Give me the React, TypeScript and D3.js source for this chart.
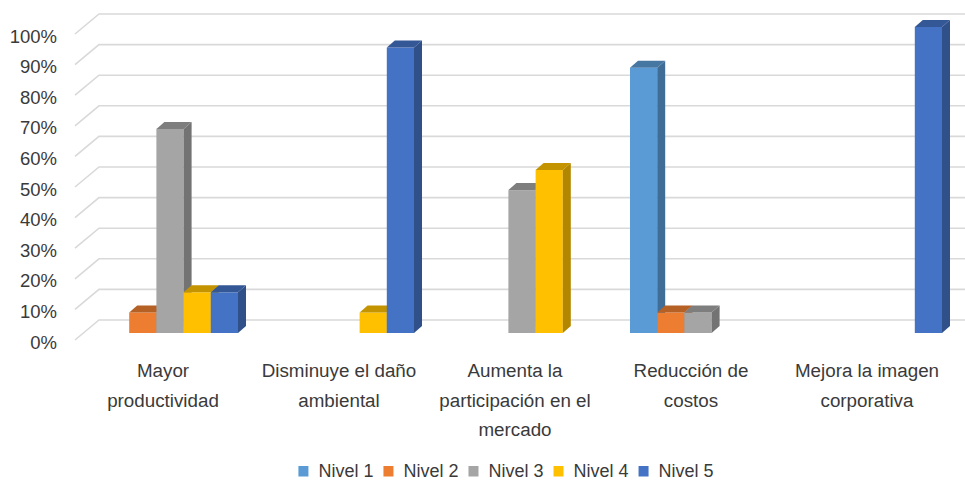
import React, { useRef, useEffect } from 'react';
import * as d3 from 'd3';

const categories = [
    'Mayor productividad',
    'Disminuye el daño ambiental',
    'Aumenta la participación en el mercado',
    'Reducción de costos',
    'Mejora la imagen corporativa',
];
const categoryLines = [
    ['Mayor', 'productividad'],
    ['Disminuye el daño', 'ambiental'],
    ['Aumenta la', 'participación en el', 'mercado'],
    ['Reducción de', 'costos'],
    ['Mejora la imagen', 'corporativa'],
];
const levels = ['Nivel 1', 'Nivel 2', 'Nivel 3', 'Nivel 4', 'Nivel 5'];
const nivel1 = [0, 0, 0, 0.867, 0];
const nivel2 = [0.067, 0, 0, 0.067, 0];
const nivel3 = [0.667, 0, 0.467, 0.067, 0];
const nivel4 = [0.133, 0.067, 0.533, 0, 0];
const nivel5 = [0.133, 0.933, 0, 0, 1];
const yTicks = [0, 0.1, 0.2, 0.3, 0.4, 0.5, 0.6, 0.7, 0.8, 0.9, 1];

const COLORS = ['#5B9BD5', '#ED7D31', '#A5A5A5', '#FFC000', '#4472C4'];
const FONT = '"Liberation Sans", Arial, sans-serif';
const TEXT = '#3a3a3a';

const App: React.FC = () => {
    const svgRef = useRef<SVGSVGElement | null>(null);

    useEffect(() => {
        if (!svgRef.current) return;
        const width = 965, height = 481;
        const svg = d3.select(svgRef.current);
        svg.selectAll('*').remove();
        svg.attr('width', width).attr('height', height);

        svg.append('rect').attr('width', width).attr('height', height).attr('fill', '#fff');

        // front plane of the floor and depth of the walls
        const wallDx = 24, wallDy = -20;
        const barOffX = 7, barOffY = -7;   // where the bar front face sits
        const barDx = 8, barDy = -7;       // bar depth

        const x = d3.scaleBand<string>().domain(categories).range([75, 955])
            .paddingInner(40 / 176).paddingOuter(20 / 176);
        const xs = d3.scaleBand<string>().domain(levels).range([0, x.bandwidth()]);
        const y = d3.scaleLinear().domain([0, 1]).range([340, 34]);

        const series = [nivel1, nivel2, nivel3, nivel4, nivel5];

        // gridlines: side diagonal + back wall
        const grid = svg.append('g');
        yTicks.forEach(t => {
            const y0 = y(t);
            grid.append('path')
                .attr('d', `M${x.range()[0]},${y0}L${x.range()[0] + wallDx},${y0 + wallDy}L${width + 30},${y0 + wallDy}`)
                .attr('fill', 'none')
                .attr('stroke', '#D9D9D9')
                .attr('stroke-width', 1.6);
        });

        // y tick labels
        svg.append('g').selectAll('text')
            .data(yTicks)
            .join('text')
            .attr('x', 57)
            .attr('y', d => y(d) + 2)
            .attr('dy', '0.36em')
            .attr('text-anchor', 'end')
            .attr('font-family', FONT)
            .attr('font-size', 18.5)
            .attr('fill', TEXT)
            .text(d => d3.format('.0%')(d));

        // bars
        const bars = svg.append('g');
        categories.forEach((cat, ci) => {
            levels.forEach((lev, li) => {
                const v = series[li][ci];
                if (!v) return;
                const x0 = (x(cat) as number) + (xs(lev) as number) + barOffX;
                const x1 = x0 + xs.bandwidth();
                const top = y(v) + barOffY;
                const bottom = y(0) + barOffY;
                const base = d3.color(COLORS[li])!;
                const side = base.darker(1).toString();
                const topC = base.darker(0.75).toString();
                bars.append('rect')
                    .attr('x', x0).attr('y', top)
                    .attr('width', x1 - x0).attr('height', bottom - top)
                    .attr('fill', COLORS[li]);
                bars.append('path')
                    .attr('d', `M${x1},${top}L${x1 + barDx},${top + barDy}L${x1 + barDx},${bottom + barDy}L${x1},${bottom}Z`)
                    .attr('fill', side);
                bars.append('path')
                    .attr('d', `M${x0},${top}L${x0 + barDx},${top + barDy}L${x1 + barDx},${top + barDy}L${x1},${top}Z`)
                    .attr('fill', topC);
            });
        });

        // category labels
        const labels = svg.append('g')
            .attr('font-family', FONT)
            .attr('font-size', 18.8)
            .attr('fill', TEXT)
            .attr('text-anchor', 'middle');
        categories.forEach((cat, ci) => {
            const cx = (x(cat) as number) + x.bandwidth() / 2;
            const t = labels.append('text').attr('x', cx).attr('y', 377);
            categoryLines[ci].forEach((line, i) => {
                t.append('tspan').attr('x', cx).attr('dy', i === 0 ? 0 : 29.5).text(line);
            });
        });

        // legend
        const legend = svg.append('g')
            .attr('font-family', FONT)
            .attr('font-size', 18)
            .attr('fill', TEXT);
        const items = levels.map((lev, i) => {
            const g = legend.append('g');
            g.append('rect').attr('x', 0).attr('y', -11).attr('width', 10).attr('height', 10.5).attr('fill', COLORS[i]);
            const txt = g.append('text').attr('x', 20).attr('y', 0).text(lev);
            const w = 20 + (txt.node() as SVGTextElement).getComputedTextLength();
            return { g, w };
        });
        const gap = 10;
        const total = d3.sum(items, d => d.w) + gap * (items.length - 1);
        let lx = 506 - total / 2;
        items.forEach(it => {
            it.g.attr('transform', `translate(${lx},477)`);
            lx += it.w + gap;
        });
    }, []);

    return <svg ref={svgRef} style={{ position: 'absolute', left: 0, top: 0, display: 'block' }}></svg>;
};

export default App;
